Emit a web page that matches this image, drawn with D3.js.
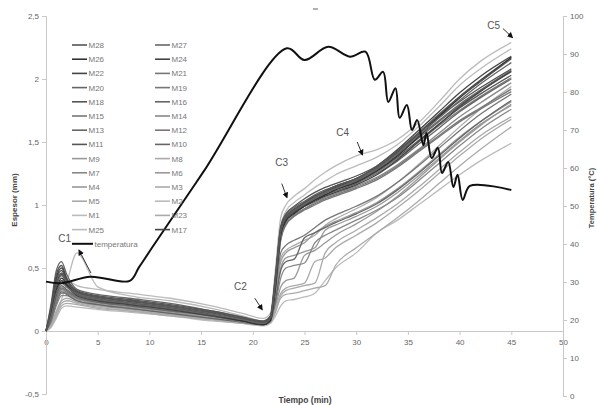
<!DOCTYPE html>
<html>
<head>
<meta charset="utf-8">
<script src="https://cdn.jsdelivr.net/npm/d3@7"></script>
<style>
  body { margin: 0; background: #fff; }
  text { font-family: "Liberation Sans", Arial, sans-serif; }
</style>
</head>
<body>
<div id="grafico"></div>
<script>
// Tiempos comunes (min) de las curvas M
const tiempos = [0, 0.5, 1, 1.5, 2, 3, 5, 8, 12, 16, 19, 21, 21.7, 22.2, 22.7, 23.2, 24, 25, 26, 27, 28, 30, 32, 34, 36, 38, 40, 42, 45];

// Curvas del grupo principal
const M28 = [0, 0.18, 0.38, 0.46, 0.40, 0.31, 0.27, 0.24, 0.20, 0.15, 0.10, 0.07, 0.10, 0.40, 0.80, 0.90, 0.96, 1.02, 1.07, 1.11, 1.15, 1.21, 1.30, 1.42, 1.57, 1.72, 1.86, 1.98, 2.16];
const M26 = [0, 0.15, 0.33, 0.42, 0.37, 0.29, 0.25, 0.22, 0.18, 0.13, 0.08, 0.05, 0.08, 0.35, 0.76, 0.87, 0.93, 0.99, 1.04, 1.08, 1.12, 1.18, 1.27, 1.39, 1.54, 1.70, 1.85, 1.98, 2.17];
const M22 = [0, 0.12, 0.30, 0.40, 0.36, 0.28, 0.24, 0.21, 0.17, 0.12, 0.08, 0.05, 0.09, 0.38, 0.78, 0.88, 0.94, 0.99, 1.03, 1.07, 1.10, 1.16, 1.24, 1.36, 1.50, 1.64, 1.78, 1.90, 2.06];
const M20 = [0, 0.10, 0.28, 0.36, 0.33, 0.27, 0.23, 0.20, 0.16, 0.12, 0.08, 0.06, 0.10, 0.42, 0.80, 0.89, 0.95, 1.00, 1.04, 1.08, 1.11, 1.17, 1.25, 1.35, 1.48, 1.61, 1.74, 1.85, 2.00];
const M18 = [0, 0.20, 0.45, 0.52, 0.42, 0.32, 0.28, 0.25, 0.21, 0.16, 0.11, 0.08, 0.12, 0.45, 0.83, 0.93, 0.99, 1.05, 1.10, 1.14, 1.17, 1.23, 1.31, 1.43, 1.57, 1.70, 1.82, 1.93, 2.08];
const M15 = [0, 0.08, 0.22, 0.30, 0.30, 0.26, 0.23, 0.20, 0.16, 0.12, 0.07, 0.05, 0.08, 0.33, 0.72, 0.84, 0.91, 0.97, 1.01, 1.05, 1.08, 1.14, 1.21, 1.31, 1.43, 1.55, 1.67, 1.77, 1.92];
const M13 = [0, 0.14, 0.35, 0.44, 0.38, 0.30, 0.26, 0.23, 0.19, 0.14, 0.09, 0.06, 0.09, 0.37, 0.77, 0.88, 0.94, 1.00, 1.05, 1.09, 1.13, 1.19, 1.28, 1.40, 1.53, 1.66, 1.79, 1.91, 2.07];
const M11 = [0, 0.16, 0.40, 0.48, 0.40, 0.31, 0.27, 0.23, 0.19, 0.14, 0.09, 0.06, 0.11, 0.43, 0.81, 0.91, 0.97, 1.02, 1.06, 1.10, 1.13, 1.19, 1.27, 1.38, 1.51, 1.64, 1.77, 1.88, 2.03];
const M27 = [0, 0.12, 0.30, 0.38, 0.35, 0.29, 0.25, 0.22, 0.18, 0.13, 0.09, 0.06, 0.10, 0.40, 0.79, 0.90, 0.96, 1.01, 1.06, 1.10, 1.13, 1.20, 1.29, 1.41, 1.55, 1.69, 1.83, 1.96, 2.13];
const M24 = [0, 0.17, 0.42, 0.50, 0.41, 0.31, 0.27, 0.24, 0.20, 0.15, 0.10, 0.07, 0.11, 0.41, 0.80, 0.90, 0.96, 1.01, 1.06, 1.10, 1.14, 1.20, 1.29, 1.42, 1.56, 1.71, 1.86, 1.99, 2.17];
const M21 = [0, 0.10, 0.26, 0.34, 0.32, 0.27, 0.24, 0.21, 0.17, 0.13, 0.09, 0.06, 0.10, 0.36, 0.74, 0.85, 0.91, 0.96, 1.00, 1.04, 1.07, 1.13, 1.20, 1.30, 1.42, 1.54, 1.66, 1.76, 1.90];
const M19 = [0, 0.13, 0.32, 0.40, 0.36, 0.29, 0.25, 0.22, 0.18, 0.13, 0.09, 0.06, 0.09, 0.39, 0.78, 0.89, 0.95, 1.00, 1.04, 1.08, 1.12, 1.18, 1.26, 1.37, 1.50, 1.63, 1.75, 1.86, 2.01];
const M16 = [0, 0.22, 0.48, 0.55, 0.45, 0.33, 0.29, 0.26, 0.22, 0.16, 0.11, 0.07, 0.11, 0.44, 0.82, 0.92, 0.98, 1.03, 1.08, 1.12, 1.15, 1.21, 1.30, 1.41, 1.54, 1.67, 1.80, 1.91, 2.06];
const M14 = [0, 0.09, 0.24, 0.33, 0.31, 0.27, 0.24, 0.21, 0.17, 0.13, 0.09, 0.06, 0.09, 0.34, 0.73, 0.85, 0.92, 0.97, 1.02, 1.06, 1.09, 1.15, 1.22, 1.32, 1.44, 1.57, 1.70, 1.81, 1.97];
const M17 = [0, 0.14, 0.36, 0.45, 0.39, 0.30, 0.26, 0.23, 0.19, 0.14, 0.09, 0.06, 0.10, 0.40, 0.79, 0.90, 0.96, 1.02, 1.07, 1.11, 1.15, 1.21, 1.31, 1.44, 1.59, 1.74, 1.89, 2.02, 2.18];
const M1  = [0, 0.12, 0.30, 0.38, 0.40, 0.36, 0.33, 0.30, 0.26, 0.20, 0.14, 0.10, 0.14, 0.50, 0.90, 1.00, 1.07, 1.13, 1.20, 1.26, 1.31, 1.39, 1.44, 1.52, 1.65, 1.82, 2.00, 2.14, 2.29];
const M25 = [0, 0.05, 0.15, 0.25, 0.38, 0.62, 0.35, 0.28, 0.24, 0.18, 0.12, 0.08, 0.11, 0.42, 0.83, 0.95, 1.02, 1.08, 1.14, 1.19, 1.24, 1.31, 1.38, 1.48, 1.62, 1.78, 1.95, 2.08, 2.24];

// Curvas con salto retrasado
const M9  = [0, 0.10, 0.25, 0.32, 0.30, 0.25, 0.22, 0.19, 0.15, 0.11, 0.08, 0.06, 0.10, 0.30, 0.55, 0.62, 0.66, 0.70, 0.78, 0.83, 0.87, 0.94, 1.02, 1.13, 1.26, 1.40, 1.54, 1.66, 1.82];
const M7  = [0, 0.08, 0.20, 0.28, 0.28, 0.24, 0.21, 0.18, 0.14, 0.10, 0.07, 0.05, 0.08, 0.22, 0.42, 0.50, 0.52, 0.54, 0.70, 0.76, 0.80, 0.88, 0.96, 1.06, 1.19, 1.33, 1.47, 1.60, 1.76];
const M4  = [0, 0.12, 0.28, 0.35, 0.32, 0.26, 0.23, 0.19, 0.15, 0.11, 0.08, 0.06, 0.09, 0.20, 0.35, 0.40, 0.42, 0.60, 0.64, 0.70, 0.76, 0.85, 0.95, 1.07, 1.21, 1.36, 1.50, 1.63, 1.80];
const M5  = [0, 0.06, 0.16, 0.24, 0.26, 0.23, 0.20, 0.17, 0.13, 0.10, 0.07, 0.05, 0.07, 0.15, 0.28, 0.32, 0.34, 0.36, 0.38, 0.62, 0.70, 0.80, 0.90, 1.01, 1.14, 1.28, 1.42, 1.55, 1.70];
const M12 = [0, 0.15, 0.38, 0.46, 0.39, 0.30, 0.26, 0.22, 0.18, 0.13, 0.09, 0.06, 0.10, 0.35, 0.62, 0.68, 0.72, 0.76, 0.82, 0.88, 0.92, 0.99, 1.07, 1.18, 1.31, 1.45, 1.59, 1.72, 1.88];
const M10 = [0, 0.09, 0.24, 0.31, 0.29, 0.24, 0.21, 0.18, 0.14, 0.10, 0.07, 0.05, 0.08, 0.25, 0.48, 0.55, 0.57, 0.74, 0.78, 0.82, 0.86, 0.93, 1.01, 1.12, 1.25, 1.39, 1.53, 1.66, 1.83];
const M8  = [0, 0.05, 0.14, 0.22, 0.24, 0.22, 0.19, 0.16, 0.13, 0.09, 0.07, 0.05, 0.07, 0.18, 0.30, 0.34, 0.36, 0.38, 0.55, 0.58, 0.66, 0.76, 0.86, 0.98, 1.11, 1.25, 1.39, 1.52, 1.68];
const M6  = [0, 0.11, 0.27, 0.34, 0.31, 0.26, 0.22, 0.19, 0.15, 0.11, 0.08, 0.06, 0.09, 0.28, 0.50, 0.58, 0.60, 0.63, 0.66, 0.80, 0.84, 0.91, 0.99, 1.10, 1.23, 1.37, 1.51, 1.64, 1.79];
const M3  = [0, 0.04, 0.12, 0.20, 0.22, 0.21, 0.18, 0.16, 0.12, 0.09, 0.06, 0.05, 0.07, 0.16, 0.26, 0.29, 0.30, 0.32, 0.34, 0.36, 0.52, 0.66, 0.78, 0.90, 1.03, 1.17, 1.31, 1.44, 1.62];
const M2  = [0, 0.03, 0.10, 0.18, 0.20, 0.19, 0.17, 0.15, 0.12, 0.08, 0.06, 0.04, 0.06, 0.12, 0.20, 0.24, 0.25, 0.27, 0.30, 0.40, 0.50, 0.62, 0.78, 0.88, 1.00, 1.12, 1.24, 1.35, 1.49];
const M23 = [0, 0.13, 0.32, 0.40, 0.35, 0.28, 0.24, 0.21, 0.17, 0.12, 0.09, 0.06, 0.09, 0.30, 0.58, 0.64, 0.68, 0.72, 0.76, 0.84, 0.89, 0.97, 1.06, 1.18, 1.32, 1.47, 1.62, 1.76, 1.94];

// Temperatura (eje derecho)
const tempTiempos = [0, 1.5, 4.3, 8.1, 9.0, 10.2, 15.2, 23.3, 25.0, 27.3, 29.4, 30.9, 31.8, 32.6, 33.1, 33.8, 34.2, 34.9, 35.4, 35.9, 36.5, 36.8, 37.3, 37.9, 38.3, 38.9, 39.4, 39.8, 40.3, 41.0, 45.0];
const tempValores = [30.1, 29.7, 31.4, 30.3, 33.9, 38.8, 58.9, 91.5, 88.4, 91.9, 89.3, 90.6, 83.2, 85.3, 77.4, 81.0, 73.2, 76.6, 70.0, 72.6, 66.0, 69.2, 62.6, 65.3, 58.7, 61.6, 55.0, 58.2, 51.6, 55.3, 54.2];

// Ejes
const ticksX = [0, 5, 10, 15, 20, 25, 30, 35, 40, 45, 50];
const ticksY = [-0.5, 0, 0.5, 1, 1.5, 2, 2.5];
const ticksT = [0, 10, 20, 30, 40, 50, 60, 70, 80, 90, 100];

// Anotaciones (en unidades de datos)
const notas = [
  { label: 'C1', t: 1.8, v: 0.74, from: [4.35, 0.46], to: [3.2, 0.64] },
  { label: 'C2', t: 18.8, v: 0.36, from: [20.2, 0.26], to: [20.9, 0.17] },
  { label: 'C3', t: 22.8, v: 1.34, from: [22.8, 1.17], to: [23.3, 1.06] },
  { label: 'C4', t: 28.7, v: 1.58, from: [30.1, 1.50], to: [30.6, 1.40] },
  { label: 'C5', t: 43.3, v: 2.43, from: [44.2, 2.40], to: [45.1, 2.33] }
];

// Orden de la leyenda y series
const series = [
  ['M28', M28], ['M27', M27], ['M26', M26], ['M24', M24], ['M22', M22], ['M21', M21],
  ['M20', M20], ['M19', M19], ['M18', M18], ['M16', M16], ['M15', M15], ['M14', M14],
  ['M13', M13], ['M12', M12], ['M11', M11], ['M10', M10], ['M9', M9], ['M8', M8],
  ['M7', M7], ['M6', M6], ['M4', M4], ['M3', M3], ['M5', M5], ['M2', M2],
  ['M1', M1], ['M23', M23], ['M25', M25], ['M17', M17]
].map(([name, values]) => ({ name, values }));

const colores = {
  M28: '#555', M27: '#666', M26: '#333', M24: '#444', M22: '#444', M21: '#777',
  M20: '#666', M19: '#777', M18: '#555', M16: '#666', M15: '#777', M14: '#888',
  M13: '#666', M12: '#777', M11: '#555', M10: '#666', M9: '#999', M8: '#aaa',
  M7: '#888', M6: '#999', M4: '#999', M3: '#aaa', M5: '#aaa', M2: '#bbb',
  M1: '#bbb', M23: '#aaa', M25: '#bbb', M17: '#444'
};

const width = 597;
const height = 405;

const svg = d3.select('#grafico')
  .append('svg')
  .attr('width', width)
  .attr('height', height);

const x = d3.scaleLinear().domain([0, 50]).range([46, 563]);
const y = d3.scaleLinear().domain([-0.5, 2.5]).range([394, 16]);
const yT = d3.scaleLinear().domain([0, 100]).range([396, 16]);

const coma = d => String(d).replace('.', ',');

// Eje X
const gx = svg.append('g')
  .attr('transform', `translate(0, ${y(0)})`)
  .call(d3.axisBottom(x).tickValues(ticksX).tickSize(4).tickFormat(coma));

// Eje Y izquierdo
const gy = svg.append('g')
  .attr('transform', `translate(${x(0)}, 0)`)
  .call(d3.axisLeft(y).tickValues(ticksY).tickSize(4).tickFormat(coma));

// Eje Y derecho
const gt = svg.append('g')
  .attr('transform', `translate(${x(50)}, 0)`)
  .call(d3.axisRight(yT).tickValues(ticksT).tickSize(4));

[gx, gy, gt].forEach(g => {
  g.select('.domain').attr('stroke', '#c8c8c8');
  g.selectAll('.tick line').attr('stroke', '#c8c8c8');
  g.selectAll('.tick text')
    .attr('fill', '#666')
    .style('font-size', '8px')
    .style('font-family', '"Liberation Sans", Arial, sans-serif');
});
gx.selectAll('.tick text').attr('dy', '0.9em');

// Títulos de ejes
svg.append('text')
  .attr('x', 305).attr('y', 403)
  .attr('text-anchor', 'middle')
  .style('font-size', '8.5px').style('font-weight', 'bold').attr('fill', '#444')
  .text('Tiempo (min)');

svg.append('text')
  .attr('transform', 'translate(17, 200) rotate(-90)')
  .attr('text-anchor', 'middle')
  .style('font-size', '8px').style('font-weight', 'bold').attr('fill', '#444')
  .text('Espesor (mm)');

svg.append('text')
  .attr('transform', 'translate(594, 198) rotate(-90)')
  .attr('text-anchor', 'middle')
  .style('font-size', '7.5px').style('font-weight', 'bold').attr('fill', '#444')
  .text('Temperatura (°C)');

// Curvas M
const linea = d3.line()
  .x((d, i) => x(tiempos[i]))
  .y(d => y(d))
  .curve(d3.curveMonotoneX);

svg.append('g')
  .selectAll('path')
  .data(series.slice().reverse())
  .enter()
  .append('path')
  .attr('d', d => linea(d.values))
  .attr('fill', 'none')
  .attr('stroke', d => colores[d.name])
  .attr('stroke-width', 1.3);

// Temperatura
const lineaT = d3.line()
  .x((d, i) => x(tempTiempos[i]))
  .y(d => yT(d))
  .curve(d3.curveCatmullRom.alpha(0.5));

svg.append('path')
  .attr('d', lineaT(tempValores))
  .attr('fill', 'none')
  .attr('stroke', '#111')
  .attr('stroke-width', 2);

// Leyenda
const leyenda = svg.append('g');
const items = series.map(d => ({ name: d.name, color: colores[d.name], w: 1.6 }))
  .concat([{ name: 'temperatura', color: '#111', w: 2, row: 14, col: 0 }]);

items.forEach((d, i) => {
  const col = d.col !== undefined ? d.col : i % 2;
  const row = d.row !== undefined ? d.row : Math.floor(i / 2);
  const lx = col === 0 ? 72 : 155;
  const ly = 45 + row * 14.2;
  const len = d.name === 'temperatura' ? 21 : 15;
  leyenda.append('line')
    .attr('x1', lx).attr('x2', lx + len)
    .attr('y1', ly).attr('y2', ly)
    .attr('stroke', d.color).attr('stroke-width', d.w);
  leyenda.append('text')
    .attr('x', lx + len + 1.5).attr('y', ly + 3)
    .style('font-size', '8px').attr('fill', '#777')
    .text(d.name);
});

// Anotaciones C1..C5
svg.append('defs').append('marker')
  .attr('id', 'flecha')
  .attr('viewBox', '0 0 10 10')
  .attr('refX', 8).attr('refY', 5)
  .attr('markerWidth', 6).attr('markerHeight', 6)
  .attr('orient', 'auto')
  .append('path')
  .attr('d', 'M0,0 L10,5 L0,10 z')
  .attr('fill', '#111');

notas.forEach(n => {
  svg.append('text')
    .attr('x', x(n.t)).attr('y', y(n.v) + 4)
    .attr('text-anchor', 'middle')
    .style('font-size', '10px').attr('fill', '#555')
    .text(n.label);
  svg.append('line')
    .attr('x1', x(n.from[0])).attr('y1', y(n.from[1]))
    .attr('x2', x(n.to[0])).attr('y2', y(n.to[1]))
    .attr('stroke', '#333').attr('stroke-width', 1)
    .attr('marker-end', 'url(#flecha)');
});

// Pequeña marca superior del original
svg.append('line')
  .attr('x1', 313).attr('x2', 318).attr('y1', 9).attr('y2', 9)
  .attr('stroke', '#666').attr('stroke-width', 1);
</script>
</body>
</html>
